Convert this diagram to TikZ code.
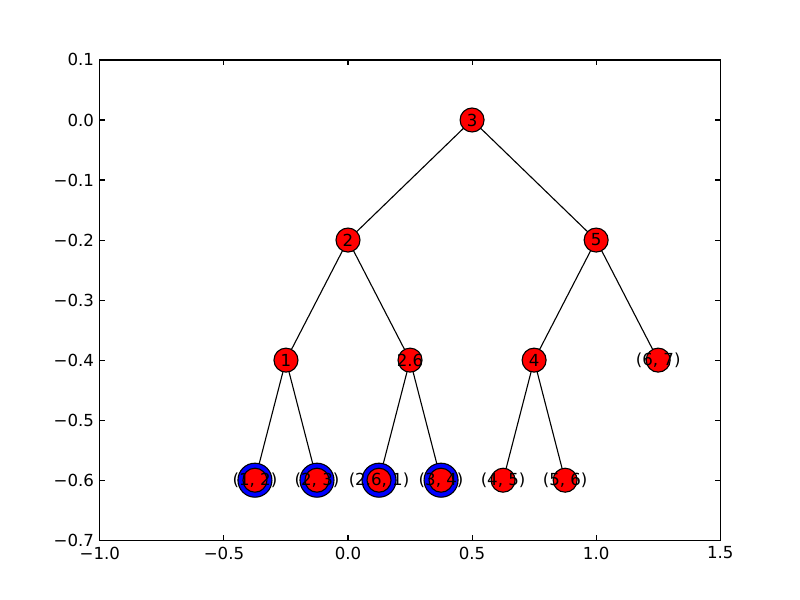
\documentclass[tikz,border=0pt]{standalone}
\usepackage{fontspec}
\setmainfont{DejaVu Sans}
\begin{document}
\begin{tikzpicture}[x=0.01in,y=0.01in,
  rednode/.style={circle,draw=black,line width=0.8pt,fill=red,minimum size=0.24in,inner sep=0pt},
  bluering/.style={circle,draw=black,line width=0.8pt,fill=blue,minimum size=0.34in,inner sep=0pt},
  lbl/.style={inner sep=0pt,font=\fontsize{12}{14}\selectfont,text=black},
  edge/.style={draw=black,line width=0.8pt},
  tick/.style={draw=black,line width=0.8pt},
  ticklbl/.style={inner sep=0pt,font=\fontsize{12}{14}\selectfont}]
\useasboundingbox[fill=white] (0,0) rectangle (800,600);
\begin{scope}[shift={(348,480)},x=2.48in,y=6in]
  % positions
  \coordinate (p3) at (0.5,0);
  \coordinate (p2) at (0,-0.2);
  \coordinate (p5) at (1,-0.2);
  \coordinate (p1) at (-0.25,-0.4);
  \coordinate (p26) at (0.25,-0.4);
  \coordinate (p4) at (0.75,-0.4);
  \coordinate (p67) at (1.25,-0.4);
  \coordinate (p12) at (-0.375,-0.6);
  \coordinate (p23) at (-0.125,-0.6);
  \coordinate (p261) at (0.125,-0.6);
  \coordinate (p34) at (0.375,-0.6);
  \coordinate (p45) at (0.625,-0.6);
  \coordinate (p56) at (0.875,-0.6);
  % edges
  \draw[edge] (p3) -- (p2);
  \draw[edge] (p3) -- (p5);
  \draw[edge] (p2) -- (p1);
  \draw[edge] (p2) -- (p26);
  \draw[edge] (p5) -- (p4);
  \draw[edge] (p5) -- (p67);
  \draw[edge] (p1) -- (p12);
  \draw[edge] (p1) -- (p23);
  \draw[edge] (p26) -- (p261);
  \draw[edge] (p26) -- (p34);
  \draw[edge] (p4) -- (p45);
  \draw[edge] (p4) -- (p56);
  % blue rings
  \node[bluering] (b12) at (p12) {};
  \node[bluering] (b23) at (p23) {};
  \node[bluering] (b261) at (p261) {};
  \node[bluering] (b34) at (p34) {};
  % red nodes
  \foreach \n in {3,2,5,1,26,4,67,12,23,261,34,45,56}
    \node[rednode] (r\n) at (p\n) {};
  % labels
  \node[lbl] (t3) at (p3) {3};
  \node[lbl] (t2) at (p2) {2};
  \node[lbl] (t5) at (p5) {5};
  \node[lbl] (t1) at (p1) {1};
  \node[lbl] (t26) at (p26) {2.6};
  \node[lbl] (t4) at (p4) {4};
  \node[lbl] (t67) at (p67) {(6, 7)};
  \node[lbl] (t12) at (p12) {(1, 2)};
  \node[lbl] (t23) at (p23) {(2, 3)};
  \node[lbl] (t261) at (p261) {(2.6, 1)};
  \node[lbl] (t34) at (p34) {(3, 4)};
  \node[lbl] (t45) at (p45) {(4, 5)};
  \node[lbl] (t56) at (p56) {(5, 6)};
  % axes frame
  \draw[line width=0.8pt] (-1,-0.7) rectangle (1.5,0.1);
  % x ticks
  \foreach \x/\t in {-1/{−1.0},-0.5/{−0.5},0/{0.0},0.5/{0.5},1/{1.0},1.5/{1.5}} {
    \draw[tick] (\x,-0.7) -- ++(0,4pt);
    \draw[tick] (\x,0.1) -- ++(0,-4pt);
    \node[ticklbl,anchor=north] (xl\x) at ([yshift=-4.5pt]\x,-0.7) {\t};
  }
  % y ticks
  \foreach \y/\t in {0.1/{0.1},0/{0.0},-0.1/{−0.1},-0.2/{−0.2},-0.3/{−0.3},-0.4/{−0.4},-0.5/{−0.5},-0.6/{−0.6},-0.7/{−0.7}} {
    \draw[tick] (-1,\y) -- ++(4pt,0);
    \draw[tick] (1.5,\y) -- ++(-4pt,0);
    \node[ticklbl,anchor=east] (yl\y) at ([xshift=-4pt]-1,\y) {\t};
  }
\end{scope}
\end{tikzpicture}
\end{document}
